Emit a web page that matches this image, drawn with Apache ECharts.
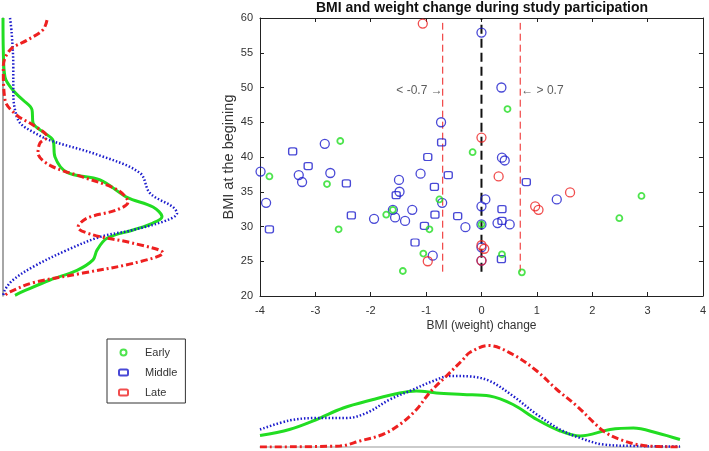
<!DOCTYPE html>
<html><head><meta charset="utf-8">
<script src="https://cdn.jsdelivr.net/npm/echarts@6/dist/echarts.min.js"></script>
<style>html,body{margin:0;padding:0;background:#fff}#c{width:709px;height:451px}</style>
</head><body><div id="c"></div>
<script>
// ---- scatter data: [BMI change, BMI at beginning]
const earlyPts = [[-0.16,40.7],[-2.55,42.3],[0.47,46.9],[-3.83,37.2],[-2.79,36.1],[-2.58,29.6],[-1.72,31.7],[-1.60,32.4],[-0.76,33.9],[-0.94,29.6],[-1.05,26.1],[-1.42,23.6],[0,30.3],[2.89,34.4],[2.49,31.2],[0.37,26.0],[0.73,23.4]];
const middleCircles = [[0,57.9],[-0.73,45.0],[0.36,50.0],[0.37,39.9],[0.42,39.5],[-2.83,41.9],[-3.99,37.9],[-3.30,37.4],[-3.24,36.4],[-2.73,37.7],[-3.89,33.4],[-1.94,31.1],[-1.60,32.4],[-1.56,31.3],[-1.38,30.8],[-1.49,36.7],[-1.48,35.0],[-1.25,32.4],[-1.10,37.6],[-0.71,33.4],[-0.88,25.8],[-0.29,29.9],[0,32.9],[0.07,33.9],[0,30.3],[0,27.0],[0,25.1],[1.36,33.9],[0.29,30.5],[0.51,30.3]];
const middleSquares = [[-0.72,42.1],[-3.41,40.8],[-0.97,40.0],[-3.13,38.7],[-2.44,36.2],[-3.83,29.6],[-2.35,31.6],[-1.54,34.5],[-0.85,35.7],[-0.84,31.7],[-0.60,37.4],[-1.03,30.1],[-1.20,27.7],[-0.43,31.5],[0.81,36.4],[0.37,32.5],[0.37,30.8],[0.36,25.3]];
const latePts = [[-1.06,59.2],[0,42.8],[-0.97,25.0],[0,27.3],[0.05,26.8],[0,25.1],[0.31,37.2],[1.60,34.9],[0.97,32.9],[1.03,32.4]];

// ---- reference lines
const cutLow = -0.7, cutHigh = 0.7, zeroLine = 0;
const cutSpan = [23.5, 59.3];
const zeroSpan = [23.5, 60];
const annotY = 49.6;

// ---- left marginal density: [density, BMI]
const leftEarly = [[0,60],[0.3,55.4],[2,51.5],[10,49.6],[20,48.2],[29,46.8],[30,44.9],[40,43.6],[50,42.4],[52,40],[64,37.8],[97,36.7],[124,34.2],[150,32.8],[159,31.4],[150,30.5],[130,29.5],[104,28.3],[94,26.6],[90,25.2],[74,23.7],[47,22.3],[24,20.9],[12,20.1]];
const leftMiddle = [[7,60],[8.7,57.8],[10.3,53],[10.3,49.2],[12,46.8],[17,44.9],[30,43.6],[47,42.4],[95,40.3],[137,37.7],[147,34.8],[170,32.8],[174,31.9],[164,30.9],[130,29.5],[97,28.5],[64,26.6],[30,24.2],[10,22.3],[2,20.9],[0.3,20.1]];
const leftLate = [[44,59.7],[40,58.3],[24,56.8],[7,55.4],[0.3,53],[2,48.2],[14,46],[30,44.6],[44,42.9],[37,42],[35,40.6],[47,38.8],[80,37.1],[114,35.3],[125,33.5],[114,32.4],[84,31.2],[75,29.9],[90,28.8],[130,27.6],[160,26.2],[130,24.7],[80,23.3],[30,21.9],[7,20.6],[2,20.1]];

// ---- bottom marginal density: [BMI change, density]
const bottomEarly = [[-4,11.5],[-3.47,17.5],[-2.98,27.5],[-2.5,39],[-1.96,47.5],[-1.48,54],[-1.18,56],[-0.82,54],[-0.34,52.5],[0.14,51],[0.56,42.5],[0.99,27.5],[1.41,16],[1.77,11],[2.31,17.5],[2.73,19],[3.16,14],[3.57,7.5]];
const bottomMiddle = [[-4,17.5],[-3.47,26.5],[-2.98,29],[-2.44,29],[-2.08,34],[-1.66,47.5],[-1.30,56],[-0.88,66],[-0.58,71],[-0.2,70.5],[0.14,66],[0.56,51],[0.99,32.5],[1.41,17.5],[1.77,9],[2.19,2.5],[2.80,1],[3.57,0.5]];
const bottomLate = [[-4,0],[-2.56,1],[-2.2,6],[-1.79,12.5],[-1.48,22.5],[-1.18,37.5],[-0.94,54.5],[-0.64,71],[-0.34,87.5],[-0.22,94.5],[0.12,101.5],[0.56,92.5],[0.99,76],[1.35,57.5],[1.71,41],[2.19,16],[2.49,7.5],[2.91,1.5],[3.57,0]];

const GREEN = '#22dd22', BLUE = '#1c1ccc', RED = '#ee2020';
const FONT = 'Liberation Sans, Arial, sans-serif';

const chart = echarts.init(document.getElementById('c'), null, {renderer: 'canvas'});
const hollow = c => ({color: 'rgba(0,0,0,0)', borderColor: c, borderWidth: 1.3});
const axisCommon = {
  axisLine: {show: true, onZero: false, lineStyle: {color: '#222', width: 1}},
  axisTick: {show: true, inside: true, length: 4, lineStyle: {color: '#222'}},
  splitLine: {show: false}
};
chart.setOption({
  animation: false,
  backgroundColor: '#fff',
  textStyle: {fontFamily: FONT},
  title: {
    text: 'BMI and weight change during study participation',
    left: 482, top: 1, padding: 0, textAlign: 'center',
    textStyle: {fontSize: 14, fontWeight: 'bold', color: '#111', fontFamily: FONT}
  },
  legend: {
    orient: 'vertical', left: 107, top: 339,
    padding: [7, 8, 4, 11],
    itemWidth: 9, itemHeight: 6, itemGap: 7,
    borderColor: '#333', borderWidth: 1,
    textStyle: {fontSize: 11, color: '#333', padding: [0, 0, 0, 12], lineHeight: 13},
    data: [{name: 'Early', icon: 'circle'}, {name: 'Middle', icon: 'roundRect'}, {name: 'Late', icon: 'roundRect'}]
  },
  grid: [
    {left: 260, top: 18, width: 443, height: 278},
    {left: 3, top: 18, width: 220, height: 278},
    {left: 260, top: 340, width: 420, height: 107}
  ],
  xAxis: [
    Object.assign({}, axisCommon, {gridIndex: 0, type: 'value', min: -4, max: 4, interval: 1, position: 'bottom',
      name: 'BMI (weight) change', nameLocation: 'middle', nameGap: 24, nameMoveOverlap: false,
      nameTextStyle: {fontSize: 12, color: '#333'},
      axisLabel: {fontSize: 11, color: '#333', margin: 9}}),
    Object.assign({}, axisCommon, {gridIndex: 0, type: 'value', min: -4, max: 4, interval: 1, position: 'top',
      axisLabel: {show: false}}),
    {gridIndex: 1, type: 'value', min: 0, max: 220, show: false},
    {gridIndex: 2, type: 'value', min: -4, max: 3.57, axisLine: {show: true, onZero: false, lineStyle: {color: '#bbb', width: 1.5}},
      axisTick: {show: false}, axisLabel: {show: false}, splitLine: {show: false}}
  ],
  yAxis: [
    Object.assign({}, axisCommon, {gridIndex: 0, type: 'value', min: 20, max: 60, interval: 5, position: 'left',
      name: 'BMI at the begining', nameLocation: 'middle', nameGap: 24, nameRotate: 90, nameMoveOverlap: false,
      nameTextStyle: {fontSize: 14.5, color: '#333'},
      axisLabel: {fontSize: 11, color: '#333', margin: 7}}),
    Object.assign({}, axisCommon, {gridIndex: 0, type: 'value', min: 20, max: 60, interval: 5, position: 'right',
      axisLabel: {show: false}}),
    {gridIndex: 1, type: 'value', min: 20, max: 60, axisLine: {show: true, onZero: false, lineStyle: {color: '#888', width: 1.5}},
      axisTick: {show: false}, axisLabel: {show: false}, splitLine: {show: false}},
    {gridIndex: 2, type: 'value', min: 0, max: 107, show: false}
  ],
  series: [
    // reference lines
    {type: 'line', xAxisIndex: 0, yAxisIndex: 0, symbol: 'none', silent: true, z: 1,
      data: [[cutLow, cutSpan[0]], [cutLow, cutSpan[1]]], lineStyle: {color: RED, width: 1, type: [7, 4]}},
    {type: 'line', xAxisIndex: 0, yAxisIndex: 0, symbol: 'none', silent: true, z: 1,
      data: [[cutHigh, cutSpan[0]], [cutHigh, cutSpan[1]]], lineStyle: {color: RED, width: 1, type: [7, 4]}},
    {type: 'line', xAxisIndex: 0, yAxisIndex: 0, symbol: 'none', silent: true, z: 1,
      data: [[zeroLine, zeroSpan[0]], [zeroLine, zeroSpan[1]]], lineStyle: {color: '#111', width: 2, type: [9, 5]}},
    // annotations
    {type: 'scatter', xAxisIndex: 0, yAxisIndex: 0, symbolSize: 0, silent: true, z: 5,
      data: [
        {value: [cutLow, annotY], label: {show: true, position: 'left', distance: 0, formatter: '< -0.7 \u2192'}},
        {value: [cutHigh, annotY], label: {show: true, position: 'right', distance: 1, formatter: '\u2190 > 0.7'}}
      ],
      label: {fontSize: 12, color: '#333', fontFamily: FONT}},
    // scatter
    {name: 'Middle', type: 'scatter', xAxisIndex: 0, yAxisIndex: 0, symbol: 'circle', symbolSize: 9,
      itemStyle: hollow(BLUE), data: middleCircles, z: 3},
    {name: 'Middle', type: 'scatter', xAxisIndex: 0, yAxisIndex: 0, symbol: 'roundRect', symbolSize: [8, 7],
      itemStyle: hollow(BLUE), data: middleSquares, z: 3},
    {name: 'Early', type: 'scatter', xAxisIndex: 0, yAxisIndex: 0, symbol: 'circle', symbolSize: 6,
      itemStyle: {color: 'rgba(0,0,0,0)', borderColor: GREEN, borderWidth: 1.8}, data: earlyPts, z: 4},
    {name: 'Late', type: 'scatter', xAxisIndex: 0, yAxisIndex: 0, symbol: 'circle', symbolSize: 9,
      itemStyle: hollow(RED), data: latePts, z: 4},
    // left densities
    {type: 'line', xAxisIndex: 2, yAxisIndex: 2, symbol: 'none', smooth: 0.35, silent: true,
      data: leftEarly, lineStyle: {color: GREEN, width: 3}},
    {type: 'line', xAxisIndex: 2, yAxisIndex: 2, symbol: 'none', smooth: 0.35, silent: true,
      data: leftMiddle, lineStyle: {color: BLUE, width: 2.5, type: [1.5, 2]}},
    {type: 'line', xAxisIndex: 2, yAxisIndex: 2, symbol: 'none', smooth: 0.35, silent: true,
      data: leftLate, lineStyle: {color: RED, width: 3, type: [7, 3, 2, 3]}},
    // bottom densities
    {type: 'line', xAxisIndex: 3, yAxisIndex: 3, symbol: 'none', smooth: 0.35, silent: true,
      data: bottomEarly, lineStyle: {color: GREEN, width: 3}},
    {type: 'line', xAxisIndex: 3, yAxisIndex: 3, symbol: 'none', smooth: 0.35, silent: true,
      data: bottomMiddle, lineStyle: {color: BLUE, width: 2.5, type: [1.5, 2]}},
    {type: 'line', xAxisIndex: 3, yAxisIndex: 3, symbol: 'none', smooth: 0.35, silent: true,
      data: bottomLate, lineStyle: {color: RED, width: 3, type: [7, 3, 2, 3]}}
  ]
});
</script></body></html>
